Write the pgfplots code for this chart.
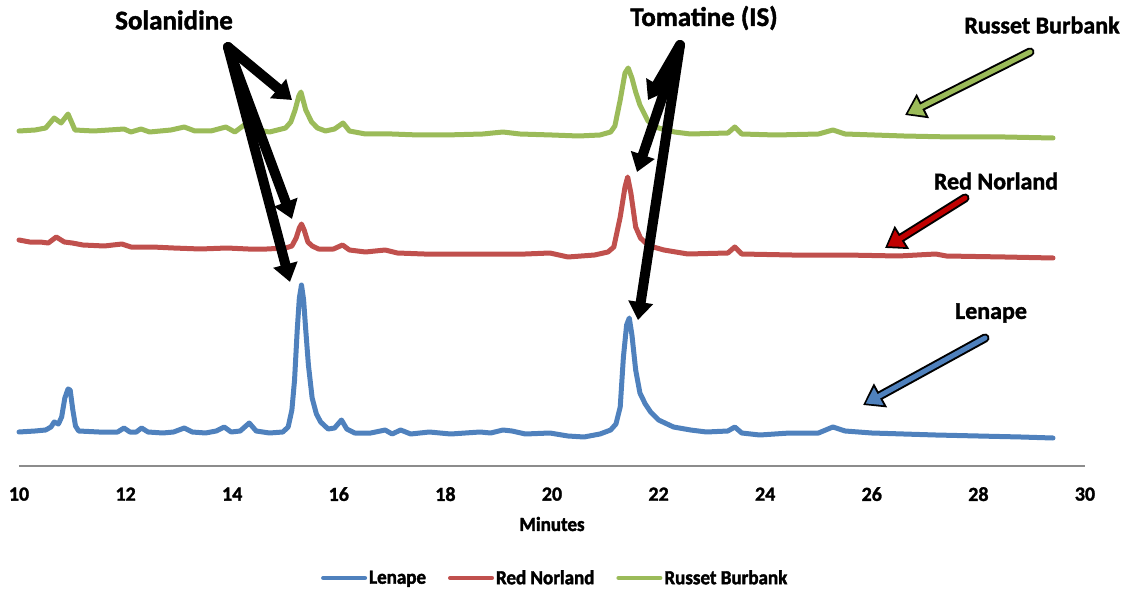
\documentclass[border=0pt]{standalone}
\usepackage{fontspec}
\setmainfont{Carlito}[BoldFeatures={FakeBold=1.5}]
\newfontfamily\condfont{Carlito}[BoldFeatures={FakeBold=2,FakeStretch=0.95}]
\usepackage{pgfplots}
\pgfplotsset{compat=1.18}
\usetikzlibrary{arrows.meta}
\definecolor{cblue}{HTML}{4F81BD}
\definecolor{cred}{HTML}{C0504D}
\definecolor{cgreen}{HTML}{9BBB59}
\definecolor{cdred}{HTML}{C00000}
\newcommand{\fs}[1]{\bfseries\fontsize{#1}{#1}\selectfont}
\newcommand{\cfs}[1]{\condfont\bfseries\fontsize{#1}{#1}\selectfont}
\begin{document}
\begin{tikzpicture}[x=1pt,y=1pt]
\path[use as bounding box] (0,0) rectangle (1128,590);
\begin{axis}[
  at={(19pt,124pt)}, anchor=south west,
  scale only axis, width=1066pt, height=466pt,
  xmin=10, xmax=30, ymin=0, ymax=466,
  axis y line=none, axis x line=bottom,
  x axis line style={-, draw=black!45, line width=2pt},
  xtick={10,12,...,30}, xtick style={draw=none},
  /pgf/number format/assume math mode=true,
  xticklabel style={font=\fs{20}, anchor=center, yshift=-26pt},
  xlabel={Minutes},
  xlabel style={font=\cfs{20}, at={(axis description cs:0.5,-0.1245)}, anchor=center},
  legend columns=3,
  legend style={at={(0.503,-0.2403)}, anchor=center, draw=none, fill=none,
    font=\cfs{20}, /tikz/every even column/.append style={column sep=20pt}},
  legend image code/.code={\draw[#1,line width=4pt] (0pt,0pt) -- (42pt,0pt);},
  every axis plot/.append style={line width=5pt, line join=round, line cap=round},
  clip=false,
]
\addplot[cblue] coordinates {
(10.00,34)(10.30,35)(10.50,36)(10.60,39)(10.66,44)(10.74,42)(10.80,49)(10.86,68)
(10.92,77)(10.96,76)(11.01,56)(11.06,40)(11.12,35)(11.50,34)(11.85,34)(11.97,38)
(12.08,34)(12.20,34)(12.30,38)(12.42,34)(12.70,33)(12.90,34)(13.10,38)(13.25,34)
(13.50,33)(13.70,35)(13.85,39)(13.98,34)(14.15,35)(14.32,43)(14.45,35)(14.70,33)
(14.95,34)(15.05,39)(15.12,56)(15.17,86)(15.22,136)(15.26,168)(15.30,181)(15.34,166)
(15.38,136)(15.43,101)(15.50,68)(15.58,52)(15.66,44)(15.80,37)(15.92,38)(16.05,46)
(16.15,37)(16.30,33)(16.60,33)(16.87,36)(17.00,32)(17.16,36)(17.35,32)(17.70,34)
(18.10,32)(18.65,34)(18.85,33)(19.08,36)(19.25,35)(19.50,32)(19.96,33)(20.30,30)
(20.60,29)(20.90,32)(21.10,36)(21.20,42)(21.28,59)(21.34,109)(21.40,141)(21.45,148)
(21.50,131)(21.57,96)(21.65,73)(21.75,62)(21.85,54)(22.00,46)(22.28,39)(22.60,36)
(22.90,34)(23.30,35)(23.43,39)(23.56,33)(23.90,31)(24.46,33)(25.00,33)(25.27,39)
(25.50,35)(26.00,33)(26.60,32)(27.20,31)(28.00,30)(28.80,29)(29.40,28)
};
\addlegendentry{Lenape}
\addplot[cred] coordinates {
(10.00,226)(10.20,224)(10.40,224)(10.55,223)(10.70,229)(10.85,224)(11.00,223)(11.20,221)
(11.60,220)(11.93,222)(12.10,219)(12.50,219)(12.90,218)(13.40,217)(13.90,218)(14.30,217)
(14.65,217)(15.00,218)(15.12,220)(15.20,228)(15.26,238)(15.30,242)(15.35,236)(15.42,224)
(15.50,220)(15.62,217)(15.90,217)(16.07,221)(16.20,216)(16.50,214)(16.87,216)(17.10,213)
(17.60,212)(18.50,212)(19.50,212)(19.96,213)(20.30,209)(20.80,211)(21.05,214)(21.16,219)
(21.28,249)(21.37,279)(21.42,289)(21.48,273)(21.57,239)(21.66,228)(21.76,223)(21.90,219)
(22.10,216)(22.55,212)(23.30,213)(23.43,219)(23.56,212)(24.50,211)(25.50,211)(26.50,210)
(27.20,212)(27.40,210)(28.50,209)(29.40,208)
};
\addlegendentry{Red Norland}
\addplot[cgreen] coordinates {
(10.00,335)(10.30,336)(10.50,338)(10.66,348)(10.79,343)(10.92,352)(11.05,336)(11.40,335)
(11.97,337)(12.10,334)(12.29,337)(12.45,334)(12.85,336)(13.10,339)(13.30,335)(13.60,335)
(13.88,339)(14.05,334)(14.30,344)(14.45,336)(14.70,334)(15.00,338)(15.10,344)(15.18,356)
(15.25,370)(15.29,374)(15.33,366)(15.38,356)(15.49,344)(15.60,338)(15.75,335)(15.92,337)
(16.08,343)(16.20,335)(16.50,332)(17.00,332)(17.50,331)(18.00,331)(18.70,332)(19.08,334)
(19.40,332)(20.00,331)(20.50,330)(20.90,331)(21.10,334)(21.18,340)(21.28,366)(21.37,393)
(21.43,398)(21.50,388)(21.57,374)(21.65,361)(21.80,345)(22.00,338)(22.30,334)(22.60,332)
(23.30,333)(23.43,339)(23.56,332)(24.20,331)(25.00,332)(25.27,336)(25.50,332)(26.60,330)
(27.50,329)(28.50,329)(29.40,328)
};
\addlegendentry{Russet Burbank}
\end{axis}
% annotations (picture coordinates: y = 590 - pixel row)
\node[font=\fs{27}] at (174,570) {Solanidine};
\node[font=\fs{27}] at (704,572) {Tomatine (IS)};
\node[font=\fs{24}] at (1042,565) {Russet Burbank};
\node[font=\fs{24}] at (996,409) {Red Norland};
\node[font=\fs{24}] at (991,277) {Lenape};
% black arrows
\begin{scope}[line width=10pt, line cap=round, -{Triangle[length=18pt,width=24pt]}]
\draw (228,543) -- (292,490);
\draw (228,543) -- (292,371);
\draw (228,543) -- (290,308);
\draw (680,545) -- (648,490);
\draw (680,545) -- (637,418);
\draw (680,545) -- (638,270);
\end{scope}
% coloured arrows with black outline
\draw[line width=9pt, line cap=round, -{Triangle[length=20pt,width=26pt]}] (1030,538) -- (905,475);
\draw[cgreen, line width=5pt, line cap=round, shorten >=3pt, -{Triangle[length=15pt,width=19pt]}] (1030,538) -- (905,475);
\draw[line width=9pt, line cap=round, -{Triangle[length=20pt,width=26pt]}] (965,392) -- (885,342);
\draw[cdred, line width=5pt, line cap=round, shorten >=3pt, -{Triangle[length=15pt,width=19pt]}] (965,392) -- (885,342);
\draw[line width=9pt, line cap=round, -{Triangle[length=20pt,width=26pt]}] (985,252) -- (863,185);
\draw[cblue, line width=5pt, line cap=round, shorten >=3pt, -{Triangle[length=15pt,width=19pt]}] (985,252) -- (863,185);
\end{tikzpicture}
\end{document}
